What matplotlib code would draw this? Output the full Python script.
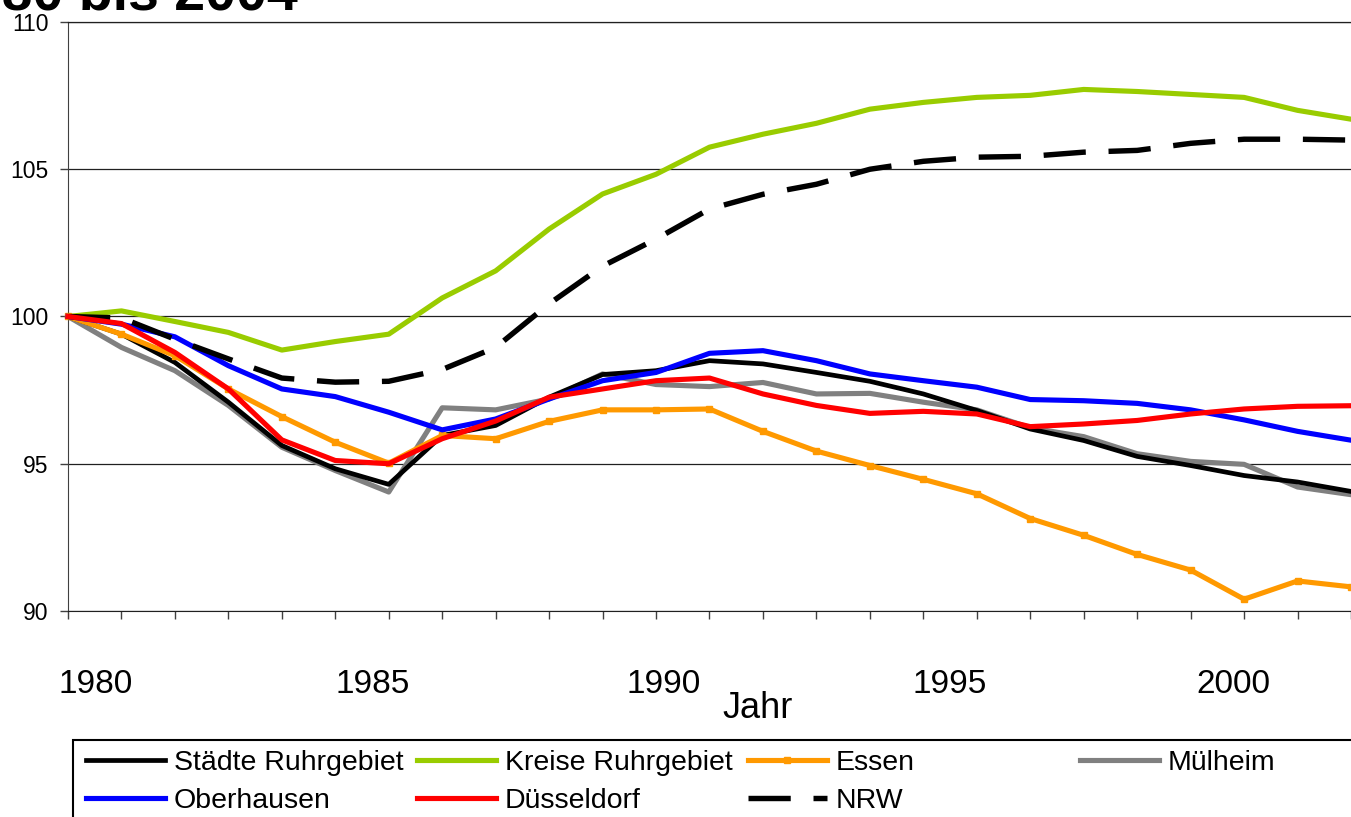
import matplotlib
matplotlib.use('Agg')
import matplotlib.pyplot as plt
from matplotlib.patches import Rectangle

plt.rcParams['font.family'] = ['Liberation Sans', 'DejaVu Sans']

years = list(range(1980, 2005))
staedte = [100, 99.40, 98.44, 97.09, 95.62, 94.83, 94.30, 95.96, 96.30, 97.26, 98.03, 98.16, 98.50,
           98.39, 98.10, 97.80, 97.37, 96.81, 96.18, 95.79, 95.25, 94.94, 94.60, 94.38, 94.06]
kreise = [100, 100.19, 99.83, 99.46, 98.86, 99.15, 99.40, 100.63, 101.55, 102.97, 104.16, 104.83, 105.75,
          106.19, 106.56, 107.04, 107.27, 107.44, 107.51, 107.71, 107.64, 107.54, 107.44, 107.0, 106.70]
essen = [100, 99.40, 98.67, 97.54, 96.60, 95.73, 95.02, 95.96, 95.85, 96.44, 96.83, 96.83, 96.86,
         96.10, 95.43, 94.94, 94.47, 93.98, 93.14, 92.57, 91.92, 91.39, 90.40, 91.02, 90.82]
muelheim = [100, 98.95, 98.16, 96.98, 95.56, 94.77, 94.04, 96.90, 96.83, 97.20, 98.05, 97.69, 97.62,
            97.76, 97.37, 97.39, 97.09, 96.83, 96.22, 95.92, 95.34, 95.08, 94.98, 94.21, 93.95]
oberhausen = [100, 99.74, 99.31, 98.33, 97.54, 97.28, 96.75, 96.15, 96.52, 97.20, 97.82, 98.10, 98.75,
              98.84, 98.50, 98.05, 97.82, 97.60, 97.18, 97.14, 97.05, 96.83, 96.49, 96.10, 95.80]
duesseldorf = [100, 99.76, 98.78, 97.54, 95.81, 95.11, 95.00, 95.85, 96.45, 97.26, 97.54, 97.82, 97.91,
               97.37, 96.98, 96.71, 96.78, 96.69, 96.26, 96.35, 96.47, 96.69, 96.86, 96.95, 96.97]
nrw = [100, 99.95, 99.23, 98.56, 97.91, 97.77, 97.80, 98.20, 98.95, 100.43, 101.71, 102.63, 103.65,
       104.15, 104.49, 105.0, 105.27, 105.41, 105.44, 105.58, 105.64, 105.88, 106.02, 106.02, 105.99]

year_labels = ['1980', '1985', '1990', '1995', '2000']
y_ticks = [90, 95, 100, 105, 110]
title = '1980 bis 2004'
xlabel = 'Jahr'

W, H = 1351, 817
fig = plt.figure(figsize=(W / 100, H / 100), dpi=100)
ax = fig.add_axes([68 / W, 1 - 611 / H, 1 - 68 / W, 589 / H])

lw = 3.7
h_st, = ax.plot(years, staedte, color='black', lw=3.4, label='Städte Ruhrgebiet', clip_on=False, zorder=3)
h_kr, = ax.plot(years, kreise, color='#99CC00', lw=lw, label='Kreise Ruhrgebiet', clip_on=False, zorder=3)
h_es, = ax.plot(years, essen, color='#FF9900', lw=lw, marker='s', ms=5, label='Essen', clip_on=False, zorder=3)
h_mu, = ax.plot(years, muelheim, color='#808080', lw=lw, label='Mülheim', clip_on=False, zorder=2)
h_ob, = ax.plot(years, oberhausen, color='#0000FF', lw=lw, label='Oberhausen', clip_on=False, zorder=3)
h_du, = ax.plot(years, duesseldorf, color='#FF0000', lw=lw, label='Düsseldorf', clip_on=False, zorder=4)
h_nrw, = ax.plot(years, nrw, color='black', lw=3.9, ls=(0, (7.8, 4.2)), label='NRW', clip_on=False, zorder=3)

ax.set_xlim(1980, 1980 + (W - 68) / 53.75)
ax.set_ylim(90, 110)

# y axis
ax.set_yticks(y_ticks)
ax.set_yticklabels([str(v) for v in y_ticks], fontsize=16.5)
ax.tick_params(axis='y', length=6, width=1, color='#404040', pad=8)
ax.yaxis.grid(True, color='#202020', lw=0.9)
ax.set_axisbelow(True)

# x axis: tick marks each year, labels at label positions
ax.set_xticks(years, minor=True)
ax.tick_params(axis='x', which='minor', length=6, width=1, color='#404040', direction='out')
label_pos = [1980 + (px - 68) / 53.75 for px in (96, 374, 667, 954, 1240)]
ax.set_xticks(label_pos)
ax.set_xticklabels(year_labels, fontsize=24)
ax.tick_params(axis='x', which='major', length=0, pad=42)

ax.spines['right'].set_visible(False)
ax.spines['top'].set_color('#202020')
ax.spines['top'].set_linewidth(0.9)
ax.spines['left'].set_color('#404040')
ax.spines['bottom'].set_color('#202020')

ax.set_xlabel(xlabel, fontsize=26)
ax.xaxis.set_label_coords((758 - 68) / (W - 68), -(718 - 611) / 589)
ax.xaxis.label.set_va('baseline')

# title (partially outside the canvas)
fig.text(298 / W, 1 - 10 / H, title, fontsize=40, fontweight='bold', ha='right', va='baseline')

# legend frame
fig.patches.append(Rectangle((73 / W, -0.05), 1.0, 0.05 + 1 - 740 / H, transform=fig.transFigure,
                             fill=False, ec='black', lw=1.5))

cols = [([h_st, h_ob], 86), ([h_kr, h_du], 417), ([h_es, h_nrw], 748), ([h_mu], 1080)]
for handles, px in cols:
    fig.legend(handles=handles, labels=[h.get_label() for h in handles],
               loc='upper left', bbox_to_anchor=(px / W, 1 - 750 / H),
               frameon=False, fontsize=20.5, handlelength=2.77, handletextpad=0.32,
               borderpad=0, borderaxespad=0, labelspacing=0.43)

fig.savefig('out.png', dpi=100)
